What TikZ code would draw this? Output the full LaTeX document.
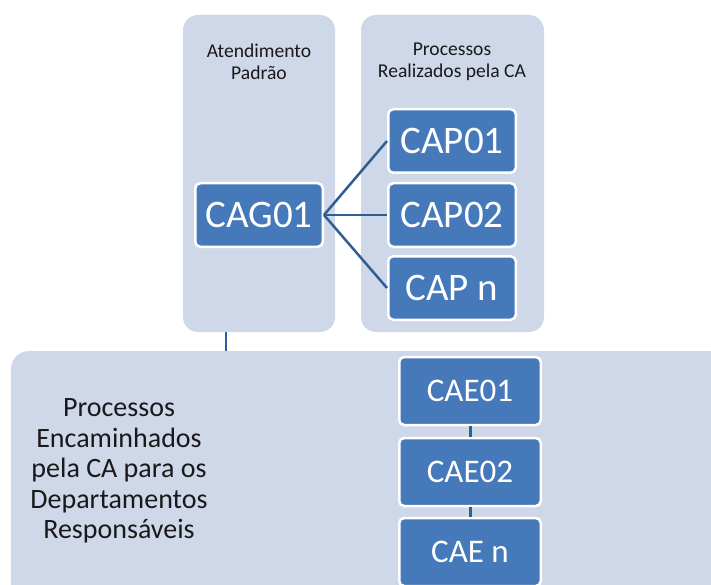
\documentclass[tikz,border=0pt]{standalone}
\usepackage{fontspec}
\setmainfont{Carlito}
\definecolor{panelfill}{HTML}{CFD8E8}
\definecolor{boxfill}{HTML}{4579BA}
\definecolor{linkcol}{HTML}{2F5F92}
\begin{document}
\begin{tikzpicture}[x=1pt,y=-1pt,
  panel/.style={fill=panelfill,draw=none,rounded corners=15pt,inner sep=0pt},
  box/.style={fill=boxfill,draw=white,line width=2.5pt,rounded corners=5pt,text=white,inner sep=0pt},
  bigbox/.style={box,minimum width=127.5pt,minimum height=63.5pt,font=\fontsize{39}{41}\selectfont},
  caebox/.style={box,minimum width=141.5pt,minimum height=68pt,font=\fontsize{33}{36}\selectfont},
  title/.style={align=center,font=\fontsize{19.6}{22}\selectfont,text=black!90,inner sep=0pt},
  link/.style={draw=linkcol,line width=2.5pt}]
\useasboundingbox (0,0) rectangle (711,585);
\clip (0,0) rectangle (711,585);
% panels
\node[panel,minimum width=152pt,minimum height=317pt] (panelL) at (259,173.5) {};
\node[panel,minimum width=183pt,minimum height=317pt] (panelR) at (452.5,173.5) {};
\node[panel,rounded corners=18pt,minimum width=760pt,minimum height=300pt] (panelB) at (391,501) {};
% titles
\node[title] (tL) at (259,61.5) {Atendimento\\Padrão};
\node[title] (tR) at (452,61.5) {Processos\\Realizados pela CA};
\node[align=center,font=\fontsize{28}{30.5}\selectfont,text=black!90,inner sep=0pt] (tB) at (119,471)
  {Processos\\Encaminhados\\pela CA para os\\Departamentos\\Responsáveis};
% vertical link
\coordinate (vx) at (226,0);
\draw[link] (panelL.south -| vx) -- (panelB.north -| vx);
% boxes
\node[bigbox] (cag) at (259,215) {CAG01};
\node[bigbox] (cap1) at (452,141) {CAP01};
\node[bigbox] (cap2) at (452,215) {CAP02};
\node[bigbox] (capn) at (452,288) {CAP n};
\node[caebox] (cae1) at (470,391) {CAE01};
\node[caebox] (cae2) at (470,472) {CAE02};
\node[caebox] (caen) at (470,552) {CAE n};
% links
\draw[link] (cag.east) -- (cap1.west);
\draw[link] (cag.east) -- (cap2.west);
\draw[link] (cag.east) -- (capn.west);
\draw[link,line width=3pt] (cae1.south) -- (cae2.north);
\draw[link,line width=3pt] (cae2.south) -- (caen.north);
\end{tikzpicture}
\end{document}
